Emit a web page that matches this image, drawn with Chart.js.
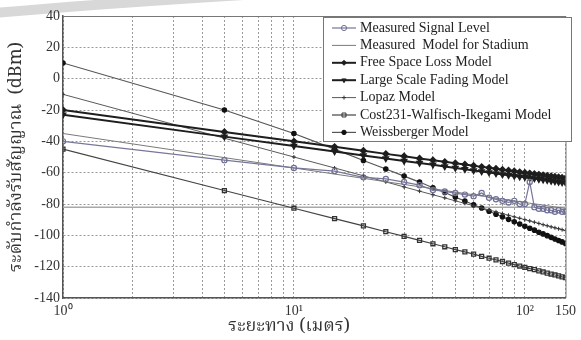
<!DOCTYPE html>
<html>
<head>
<meta charset="utf-8">
<script src="https://cdn.jsdelivr.net/npm/chart.js@4.4.1/dist/chart.umd.min.js"></script>
<style>
  html, body { margin: 0; padding: 0; background: #fff; }
  #contenedor { width: 581px; height: 340px; }
</style>
</head>
<body>
<div id="contenedor"><canvas id="grafico" width="581" height="340"></canvas></div>
<script>
// Distancias medidas (m)
const distancias = [1, 5, 10, 15, 20, 25, 30, 35, 40, 45, 50, 55, 60, 65, 70, 75, 80, 85, 90, 95, 100, 105, 110, 115, 120, 125, 130, 135, 140, 145, 150];

// Series (dBm)
const medido = [-40, -52, -57, -59, -63, -64, -66, -68, -71, -72, -73, -74, -75, -73, -76, -77, -78, -79, -78, -80, -80, -66, -82, -83, -83, -84, -84, -85, -84, -85, -85];
const modeloEstadio = [-35, -50.4, -57, -60.9, -63.6, -65.8, -67.5, -69, -70.2, -71.4, -72.4, -73.3, -74.1, -74.9, -75.6, -76.3, -76.9, -77.4, -78, -78.5, -79, -79.5, -79.9, -80.3, -80.7, -81.1, -81.5, -81.9, -82.2, -82.5, -82.9];
const espacioLibre = [-20, -34, -40, -43.5, -46, -48, -49.5, -50.9, -52, -53.1, -54, -54.8, -55.6, -56.3, -56.9, -57.5, -58.1, -58.6, -59.1, -59.6, -60, -60.4, -60.8, -61.2, -61.6, -61.9, -62.3, -62.6, -62.9, -63.2, -63.5];
const granEscala = [-23, -37, -43, -46.5, -49, -51, -52.5, -53.9, -55, -56.1, -57, -57.8, -58.6, -59.3, -59.9, -60.5, -61.1, -61.6, -62.1, -62.6, -63, -63.4, -63.8, -64.2, -64.6, -64.9, -65.3, -65.6, -65.9, -66.2, -66.5];
const lopaz = [-10, -38, -50, -57, -62, -65.9, -69.1, -71.8, -74.1, -76.1, -78, -79.6, -81.1, -82.5, -83.8, -85, -86.1, -87.2, -88.2, -89.1, -90, -90.8, -91.6, -92.4, -93.2, -93.9, -94.6, -95.2, -95.8, -96.4, -97];
const cost231 = [-45, -71.4, -82.7, -89.3, -94, -97.7, -100.7, -103.2, -105.4, -107.3, -109.1, -110.6, -112, -113.4, -114.6, -115.7, -116.7, -117.7, -118.7, -119.6, -120.4, -121.2, -121.9, -122.7, -123.4, -124.1, -124.7, -125.3, -125.9, -126.5, -127];
const weissberger = [10, -20, -35, -45, -52.2, -57.7, -62.2, -66, -69.6, -72.7, -75.6, -78.1, -80.5, -82.6, -84.6, -86.5, -88.2, -89.8, -91.4, -92.8, -94.2, -95.5, -96.7, -98, -99.1, -100.2, -101.3, -102.3, -103.3, -104.2, -105.2];

// Linea horizontal de referencia
const distanciasReferencia = [1, 150];
const referencia = [-82, -82];

// Marcas de los ejes
const marcasX = [1, 2, 3, 4, 5, 6, 7, 8, 9, 10, 20, 30, 40, 50, 60, 70, 80, 90, 100, 150];
const etiquetasX = { 1: '10⁰', 10: '10¹', 100: '10²', 150: '150' };
const marcasY = [40, 20, 0, -20, -40, -60, -80, -100, -120, -140];

const tituloX = 'ระยะทาง (เมตร)';
const tituloY = 'ระดับกำลังรับสัญญาณ  (dBm)';

const fuenteSerif = '"Liberation Serif", "Times New Roman", serif';
const fuenteThai = '"Noto Serif Thai", "Noto Sans Thai", "Norasi", "Loma", "Garuda", serif';

function puntos(xs, ys) {
    return xs.map((d, i) => ({ x: d, y: ys[i] }));
}

// Fondo blanco y trazo gris decorativo
const fondoPlugin = {
    id: 'fondo',
    beforeDraw(chart) {
        const ctx = chart.ctx;
        ctx.save();
        ctx.fillStyle = '#fff';
        ctx.fillRect(0, 0, chart.width, chart.height);
        ctx.strokeStyle = '#d8d8d8';
        ctx.lineWidth = 10;
        ctx.beginPath();
        ctx.moveTo(-5, 13);
        ctx.quadraticCurveTo(110, 3, 260, -6);
        ctx.stroke();
        ctx.restore();
    }
};

// Marco, titulo del eje X y leyenda dibujados encima
const leyendaPlugin = {
    id: 'leyenda',
    afterDraw(chart) {
        const ctx = chart.ctx;
        const area = chart.chartArea;
        ctx.save();
        ctx.strokeStyle = '#777';
        ctx.lineWidth = 1;
        ctx.beginPath();
        ctx.moveTo(area.left, area.top + 0.5);
        ctx.lineTo(area.right + 0.5, area.top + 0.5);
        ctx.lineTo(area.right + 0.5, area.bottom);
        ctx.stroke();

        // titulo del eje X (desplazado a la izquierda como en el original)
        ctx.fillStyle = '#333';
        ctx.font = '18px ' + fuenteThai;
        ctx.textAlign = 'center';
        ctx.textBaseline = 'middle';
        ctx.fillText(tituloX, 289, 328);

        // caja de la leyenda
        ctx.fillStyle = '#fff';
        ctx.fillRect(323, 17, 249, 125);
        ctx.strokeStyle = '#777';
        ctx.strokeRect(323.5, 17.5, 248, 124);

        ctx.font = '14px ' + fuenteSerif;
        ctx.textAlign = 'left';
        let fila = 0;
        chart.data.datasets.forEach(ds => {
            if (!ds.label) return;
            const y = 28 + fila * 17.4;
            ctx.strokeStyle = ds.borderColor;
            ctx.lineWidth = ds.borderWidth;
            ctx.beginPath();
            ctx.moveTo(332, y);
            ctx.lineTo(356, y);
            ctx.stroke();
            if (ds.pointRadius > 0) {
                ctx.fillStyle = ds.pointBackgroundColor;
                ctx.strokeStyle = ds.pointBorderColor;
                ctx.lineWidth = 1;
                Chart.helpers.drawPoint(ctx, {
                    pointStyle: ds.pointStyle,
                    radius: ds.pointRadius,
                    rotation: ds.pointRotation || 0,
                    borderWidth: 1
                }, 344, y);
            }
            ctx.fillStyle = '#222';
            ctx.fillText(ds.label, 360, y);
            fila++;
        });
        ctx.restore();
    }
};

const ctx = document.getElementById('grafico').getContext('2d');
const grafico = new Chart(ctx, {
    type: 'line',
    data: {
        datasets: [
            {
                label: 'Measured Signal Level',
                data: puntos(distancias, medido),
                borderColor: '#77779a',
                borderWidth: 1.2,
                pointStyle: 'circle',
                pointRadius: 2.6,
                pointBackgroundColor: 'rgba(255,255,255,0)',
                pointBorderColor: '#6f6f95',
                pointBorderWidth: 1.2
            },
            {
                label: 'Measured  Model for Stadium',
                data: puntos(distancias, modeloEstadio),
                borderColor: '#7a7a7a',
                borderWidth: 1,
                pointRadius: 0
            },
            {
                label: 'Free Space Loss Model',
                data: puntos(distancias, espacioLibre),
                borderColor: '#1e1e1e',
                borderWidth: 2,
                pointStyle: 'rectRot',
                pointRadius: 2.5,
                pointBackgroundColor: '#1e1e1e',
                pointBorderColor: '#1e1e1e'
            },
            {
                label: 'Large Scale Fading Model',
                data: puntos(distancias, granEscala),
                borderColor: '#1e1e1e',
                borderWidth: 2,
                pointStyle: 'triangle',
                pointRotation: 180,
                pointRadius: 2.5,
                pointBackgroundColor: '#1e1e1e',
                pointBorderColor: '#1e1e1e'
            },
            {
                label: 'Lopaz Model',
                data: puntos(distancias, lopaz),
                borderColor: '#5a5a5a',
                borderWidth: 1,
                pointStyle: 'cross',
                pointRadius: 2,
                pointBackgroundColor: '#333',
                pointBorderColor: '#333'
            },
            {
                label: 'Cost231-Walfisch-Ikegami Model',
                data: puntos(distancias, cost231),
                borderColor: '#444',
                borderWidth: 1.2,
                pointStyle: 'rect',
                pointRadius: 2.8,
                pointBackgroundColor: 'rgba(255,255,255,0)',
                pointBorderColor: '#333',
                pointBorderWidth: 1.3
            },
            {
                label: 'Weissberger Model',
                data: puntos(distancias, weissberger),
                borderColor: '#555',
                borderWidth: 1.2,
                pointStyle: 'circle',
                pointRadius: 2.2,
                pointBackgroundColor: '#111',
                pointBorderColor: '#111'
            },
            {
                label: '',
                data: puntos(distanciasReferencia, referencia),
                borderColor: '#a8a8a8',
                borderWidth: 1.5,
                pointRadius: 0
            }
        ]
    },
    options: {
        responsive: false,
        animation: false,
        layout: { padding: { left: 0, right: 11, top: 16, bottom: 0 } },
        plugins: {
            legend: { display: false },
            tooltip: { enabled: false }
        },
        scales: {
            x: {
                type: 'logarithmic',
                min: 1,
                max: 150,
                afterBuildTicks: escala => { escala.ticks = marcasX.map(v => ({ value: v })); },
                afterFit: escala => { escala.height = 42; },
                ticks: {
                    autoSkip: false,
                    maxRotation: 0,
                    padding: 5,
                    color: '#333',
                    font: { family: fuenteSerif, size: 14 },
                    callback: valor => etiquetasX[valor] || ''
                },
                grid: { color: '#9a9a9a', lineWidth: 1, drawTicks: false },
                border: { color: '#555', width: 1.5, dash: [2, 2] }
            },
            y: {
                min: -140,
                max: 40,
                afterBuildTicks: escala => { escala.ticks = marcasY.map(v => ({ value: v })); },
                afterFit: escala => { escala.width = 63; },
                ticks: {
                    padding: 3,
                    color: '#333',
                    font: { family: fuenteSerif, size: 14 }
                },
                grid: { color: '#9a9a9a', lineWidth: 1, drawTicks: false },
                border: { color: '#555', width: 1.5, dash: [2, 2] },
                title: {
                    display: true,
                    text: tituloY,
                    color: '#333',
                    font: { family: fuenteThai, size: 18 },
                    padding: { top: 7, bottom: 0 }
                }
            }
        }
    },
    plugins: [fondoPlugin, leyendaPlugin]
});
</script>
</body>
</html>
